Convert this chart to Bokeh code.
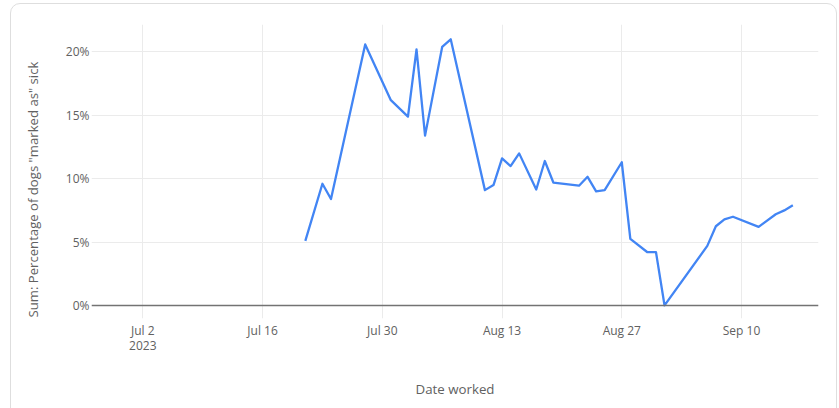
from datetime import datetime
from bokeh.plotting import figure
from bokeh.models import (ColumnDataSource, Range1d, FixedTicker, DatetimeTickFormatter,
                          PrintfTickFormatter, Span, Title, InlineStyleSheet)
from bokeh.embed import file_html
from bokeh.resources import INLINE

# ---- data ----
dates = ["2023-07-21", "2023-07-23", "2023-07-24", "2023-07-28", "2023-07-31",
         "2023-08-02", "2023-08-03", "2023-08-04", "2023-08-06", "2023-08-07",
         "2023-08-11", "2023-08-12", "2023-08-13", "2023-08-14", "2023-08-15",
         "2023-08-17", "2023-08-18", "2023-08-19", "2023-08-22", "2023-08-23",
         "2023-08-24", "2023-08-25", "2023-08-27", "2023-08-28", "2023-08-30",
         "2023-08-31", "2023-09-01", "2023-09-06", "2023-09-07", "2023-09-08",
         "2023-09-09", "2023-09-12", "2023-09-14", "2023-09-15", "2023-09-16"]
pct_sick = [5.1, 9.6, 8.4, 20.6, 16.2,
            14.9, 20.2, 13.4, 20.4, 21.0,
            9.1, 9.5, 11.6, 11.0, 12.0,
            9.15, 11.4, 9.7, 9.45, 10.15,
            9.0, 9.1, 11.3, 5.25, 4.2,
            4.2, 0.0, 4.7, 6.25, 6.8,
            7.0, 6.2, 7.2, 7.5, 7.9]
x_tick_dates = ["2023-07-02", "2023-07-16", "2023-07-30", "2023-08-13", "2023-08-27", "2023-09-10"]
x_tick_labels = ["Jul 2\n2023", "Jul 16", "Jul 30", "Aug 13", "Aug 27", "Sep 10"]
y_ticks = [0, 5, 10, 15, 20]

x_title = "Date worked"
y_title = 'Sum: Percentage of dogs "marked as" sick'

def to_ms(s):
    d = datetime.strptime(s, "%Y-%m-%d")
    return int((d - datetime(1970, 1, 1)).total_seconds() * 1000)

xs = [datetime.strptime(d, "%Y-%m-%d") for d in dates]
src = ColumnDataSource(dict(x=xs, y=pct_sick))

FONT = "Open Sans"
TXT = "#616161"
W, H = 831, 400

p = figure(width=W, height=H, x_axis_type="datetime",
           output_backend="svg", toolbar_location=None,
           x_range=Range1d(datetime(2023, 6, 26), datetime(2023, 9, 19)),
           y_range=Range1d(-1.03, 22.17),
           min_border_left=91, min_border_right=13,
           min_border_top=24, min_border_bottom=82)
p.outline_line_color = None
p.background_fill_color = "white"
p.border_fill_color = "white"

p.line("x", "y", source=src, line_color="#4285F4", line_width=2.3, line_join="round")

# baseline at zero
p.add_layout(Span(location=0, dimension="width", line_color="#737373", line_width=1.6))

# axes
tick_ms = [to_ms(d) for d in x_tick_dates]
p.xaxis.ticker = FixedTicker(ticks=tick_ms)
p.xaxis.formatter = DatetimeTickFormatter(days="%b %-d", months="%b %-d")
p.xaxis.major_label_overrides = {t: lab for t, lab in zip(tick_ms, x_tick_labels)}
p.yaxis.ticker = FixedTicker(ticks=y_ticks)
p.yaxis.formatter = PrintfTickFormatter(format="%d%%")

for ax in (p.xaxis, p.yaxis):
    ax.axis_line_color = None
    ax.major_tick_line_color = None
    ax.minor_tick_line_color = None
    ax.major_tick_out = 0
    ax.major_tick_in = 0
    ax.major_label_text_font = FONT
    ax.major_label_text_font_size = "12px"
    ax.major_label_text_color = TXT
    ax.axis_label_text_font = FONT
    ax.axis_label_text_font_size = "13.3px"
    ax.axis_label_text_font_style = "normal"
    ax.axis_label_text_color = TXT

p.xaxis.major_label_text_line_height = 0.9
p.xaxis.axis_label = x_title
p.xaxis.major_label_standoff = 3
p.yaxis.major_label_standoff = 2
p.xaxis.axis_label_standoff = 23

# y title placed along the left side, starting near the bottom of the plot
p.add_layout(Title(text=y_title, align="left", offset=1, standoff=41,
                   text_font=FONT, text_font_size="13.15px", text_font_style="normal",
                   text_color=TXT), "left")

p.xgrid.grid_line_color = "#ebebeb"
p.ygrid.grid_line_color = "#ebebeb"
p.xgrid.grid_line_width = 1
p.ygrid.grid_line_width = 1

# card border drawn with CSS around the canvas
p.stylesheets = [InlineStyleSheet(css=(
    ":host::after { content: ''; position: absolute; left: 10px; top: 3px; "
    "width: 827px; height: 430px; border: 1.5px solid #dedede; border-radius: 10px; "
    "box-sizing: border-box; pointer-events: none; z-index: 10; }"
))]

open("out.html", "w").write(file_html(p, INLINE))
